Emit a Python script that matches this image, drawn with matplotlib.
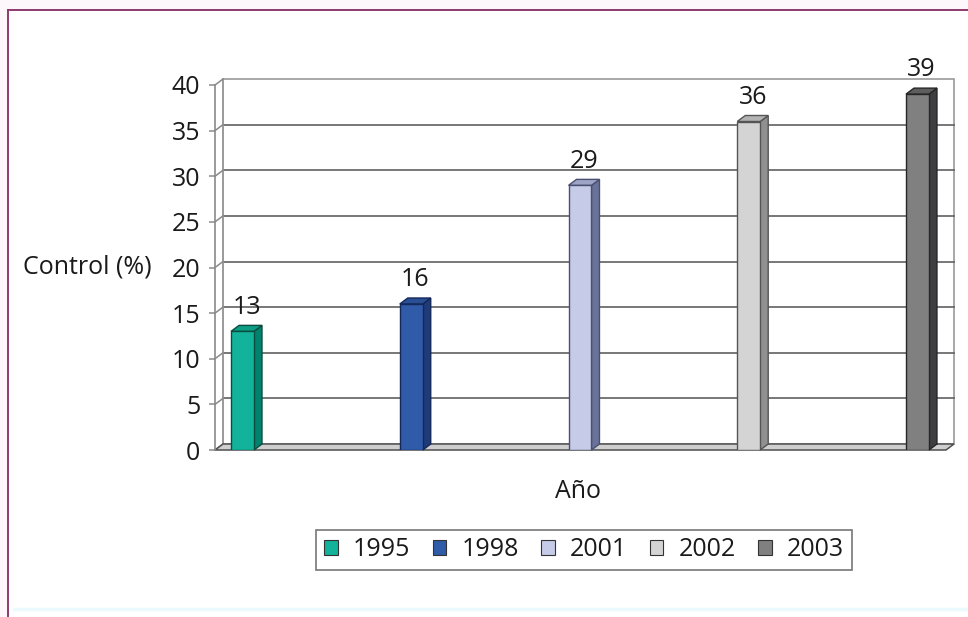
import matplotlib
matplotlib.use("Agg")
import matplotlib.pyplot as plt
from matplotlib.patches import Polygon, Rectangle, Patch
from matplotlib.lines import Line2D

plt.rcParams['font.family'] = ['Open Sans', 'DejaVu Sans']

# Data
years = ['1995', '1998', '2001', '2002', '2003']
control_pct = [13, 16, 29, 36, 39]
y_ticks = [0, 5, 10, 15, 20, 25, 30, 35, 40]
y_label = 'Control (%)'
x_label = 'Año'

# Face colours per bar: front, side, top, edge
front_colors = ['#12b39a', '#2f5ba9', '#c6cbe8', '#d4d4d4', '#808080']
side_colors = ['#00836c', '#1f3b7a', '#6b7299', '#909090', '#3f3f42']
top_colors = ['#0c9d84', '#294f95', '#9ea4c6', '#b3b3b3', '#5e5e5e']
edge_colors = ['#0a4d40', '#15285a', '#4a5070', '#555555', '#262626']

FS = 18
TXT = '#1a1a1a'

W, H = 968, 617
fig = plt.figure(figsize=(W / 100, H / 100), dpi=100)
fig.patch.set_facecolor('#fdf6fa')

# Page frame
fig.add_artist(Rectangle((8 / W, 0), 1 - 8 / W, 1 - 10 / H, transform=fig.transFigure,
                         facecolor='white', edgecolor='none', zorder=-5))
fig.add_artist(Line2D([8 / W, 8 / W], [0, 1 - 10 / H], transform=fig.transFigure,
                      color='#8e3a70', lw=1.4))
fig.add_artist(Line2D([8 / W, 1], [1 - 10 / H, 1 - 10 / H], transform=fig.transFigure,
                      color='#8e3a70', lw=1.4))
fig.add_artist(Line2D([14 / W, 1], [1 - 609 / H, 1 - 609 / H], transform=fig.transFigure,
                      color='#eafafd', lw=2.5))

# Front plane of the plot area (pixels)
L, R, B, T = 215, 946, 450, 85
ax = fig.add_axes([L / W, 1 - B / H, (R - L) / W, (B - T) / H])
ax.patch.set_visible(False)
xmin, xmax = -0.163, 4.169
ax.set_xlim(xmin, xmax)
ax.set_ylim(0, 40)

# Depth of the pseudo-3D effect, converted to data units
DX = 8 * (xmax - xmin) / (R - L)
DY = 6 * 40 / (B - T)
bar_w = 0.136

grid_c = '#606060'
# Back wall
ax.add_patch(Rectangle((xmin + DX, DY), (xmax - xmin), 40, facecolor='white',
                       edgecolor='#9a9a9a', lw=1.2, zorder=0, clip_on=False))
for v in y_ticks[1:-1]:
    ax.plot([xmin + DX, xmax + DX], [v + DY, v + DY], color=grid_c, lw=1.2,
            zorder=1, clip_on=False)
# Left side wall back edge
ax.plot([xmin + DX, xmin + DX], [DY, 40 + DY], color='#9a9a9a', lw=1.2,
        zorder=1, clip_on=False)
# Tick connectors from front axis to back wall
for v in y_ticks:
    ax.plot([xmin, xmin + DX], [v, v + DY], color='#8a8a8a', lw=1.1,
            zorder=1, clip_on=False)

# Floor
ax.add_patch(Polygon([(xmin, 0), (xmax, 0), (xmax + DX, DY), (xmin + DX, DY)],
                     closed=True, facecolor='#cfcfcf', edgecolor='#505050',
                     lw=1.1, zorder=2, clip_on=False))

# Bars
for i, v in enumerate(control_pct):
    x0 = i - bar_w / 2
    x1 = i + bar_w / 2
    ax.bar(i, v, width=bar_w, color=front_colors[i], edgecolor=edge_colors[i],
           lw=1.0, zorder=4)
    ax.add_patch(Polygon([(x1, 0), (x1 + DX, DY), (x1 + DX, v + DY), (x1, v)],
                         closed=True, facecolor=side_colors[i],
                         edgecolor=edge_colors[i], lw=1.0, zorder=3, clip_on=False))
    ax.add_patch(Polygon([(x0, v), (x1, v), (x1 + DX, v + DY), (x0 + DX, v + DY)],
                         closed=True, facecolor=top_colors[i],
                         edgecolor=edge_colors[i], lw=1.0, zorder=3, clip_on=False))
    ax.annotate(str(v), xy=(i + DX / 2, v), xytext=(0, 17.5), textcoords='offset points',
                ha='center', va='center', fontsize=FS, color=TXT,
                zorder=6, annotation_clip=False)

# Axes styling
for s in ['top', 'right', 'bottom']:
    ax.spines[s].set_visible(False)
ax.spines['left'].set_color('#8a8a8a')
ax.spines['left'].set_linewidth(1.2)
ax.set_xticks([])
ax.set_yticks(y_ticks)
ax.tick_params(axis='y', length=4.5, width=1.1, color='#8a8a8a', pad=6,
               labelsize=FS, labelcolor=TXT)

ax.set_ylabel(y_label, rotation=0, fontsize=FS, color=TXT, ha='center', va='center')
ax.yaxis.set_label_coords(-0.175, 0.5)
ax.set_xlabel(x_label, fontsize=FS, color=TXT, va='center')
ax.xaxis.set_label_coords(0.497, -0.115)

# Legend
handles = [Patch(facecolor=front_colors[i], edgecolor='#333333', lw=0.8, label=years[i])
           for i in range(len(years))]
leg = fig.legend(handles=handles, loc='center', bbox_to_anchor=(584 / W, 1 - 550 / H),
                 ncol=5, fontsize=FS, frameon=True, fancybox=False,
                 handlelength=0.55, handleheight=0.55, handletextpad=0.6,
                 columnspacing=0.9, borderpad=0.3)
leg.get_frame().set_edgecolor('#555555')
leg.get_frame().set_linewidth(1.2)
for t in leg.get_texts():
    t.set_color(TXT)

fig.savefig('out.png', dpi=100, facecolor=fig.get_facecolor())
